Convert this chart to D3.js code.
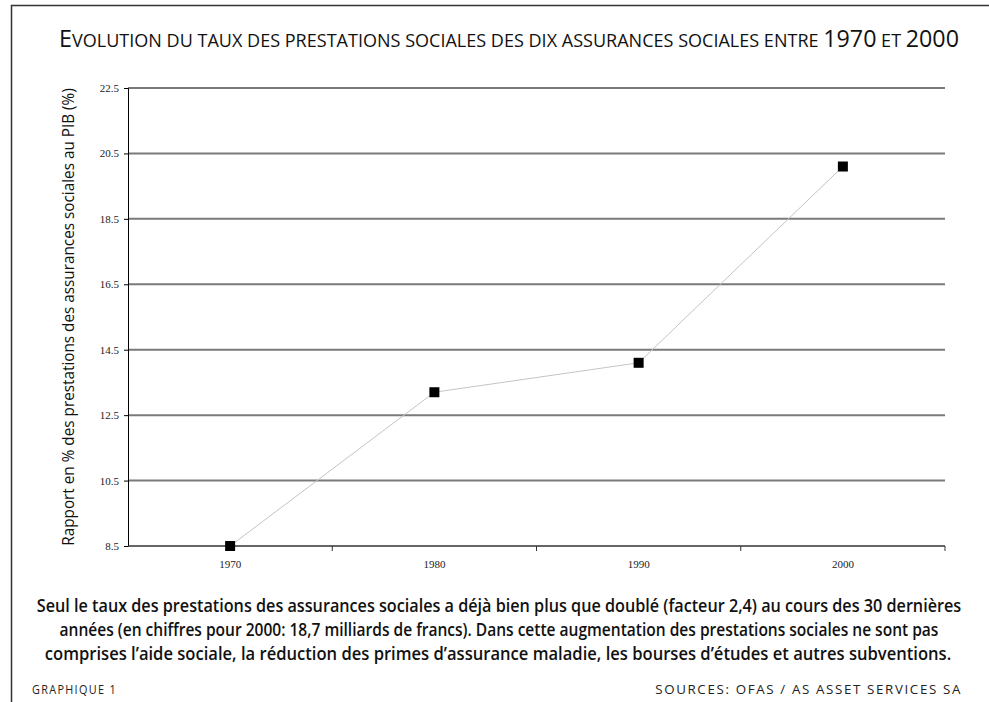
<!DOCTYPE html>
<html>
<head>
<meta charset="utf-8">
<script src="https://cdn.jsdelivr.net/npm/d3@7"></script>
<style>
  body { margin: 0; background: #fff; }
  svg { display: block; }
</style>
</head>
<body>
<div id="chart"></div>
<script>
// data
const years = ["1970", "1980", "1990", "2000"];
const rates = [8.5, 13.2, 14.1, 20.1];
const yTicks = [8.5, 10.5, 12.5, 14.5, 16.5, 18.5, 20.5, 22.5];

const title = "Evolution du taux des prestations sociales des dix assurances sociales entre 1970 et 2000";
const yLabel = "Rapport en % des prestations des assurances sociales au PIB (%)";
const caption = [
  "Seul le taux des prestations des assurances sociales a déjà bien plus que doublé (facteur 2,4) au cours des 30 dernières",
  "années (en chiffres pour 2000: 18,7 milliards de francs). Dans cette augmentation des prestations sociales ne sont pas",
  "comprises l’aide sociale, la réduction des primes d’assurance maladie, les bourses d’études et autres subventions."
];
const footLeft = "GRAPHIQUE 1";
const footRight = "SOURCES: OFAS / AS ASSET SERVICES SA";

const width = 989;
const height = 702;
const plotLeft = 128;
const plotRight = 945;
const plotTop = 88;
const plotBottom = 546;
const sans = "'Open Sans', 'DejaVu Sans', sans-serif";
const serif = "'Liberation Serif', 'Times New Roman', serif";

const svg = d3.select("#chart")
  .append("svg")
  .attr("width", width)
  .attr("height", height);

// frame (top and left only)
svg.append("path")
  .attr("d", `M11.5,${height} L11.5,5.5 L${width},5.5`)
  .attr("fill", "none")
  .attr("stroke", "#333")
  .attr("stroke-width", 1.5);

// scale a text horizontally so it is w pixels wide, anchored at (ax, ay)
let squeeze = function (sel, ax, ay, w, anchor) {
  const natural = sel.node().getComputedTextLength();
  const k = w / natural;
  sel.attr("x", 0).attr("y", 0)
    .attr("text-anchor", anchor || "middle")
    .attr("transform", `translate(${ax},${ay}) scale(${k},1)`);
};

// title, drawn as small caps by hand: capitals and digits large, the rest small
const titleText = svg.append("text")
  .attr("font-family", sans)
  .attr("fill", "#111");
title.split("").forEach(ch => {
  const big = ch !== ch.toLowerCase() || /[0-9]/.test(ch);
  titleText.append("tspan")
    .attr("font-size", big ? 24.5 : 19)
    .text(ch.toUpperCase());
});
titleText.call(squeeze, 509, 47, 900);

const x = d3.scaleBand().domain(years).range([plotLeft, plotRight]);
const y = d3.scaleLinear().domain([8.5, 22.5]).range([plotBottom, plotTop]);

// gridlines
svg.append("g")
  .selectAll("line")
  .data(yTicks.slice(1))
  .join("line")
  .attr("x1", plotLeft)
  .attr("x2", plotRight)
  .attr("y1", d => y(d))
  .attr("y2", d => y(d))
  .attr("stroke", "#7a7a7a")
  .attr("stroke-width", 2);

// y axis
const yAxis = svg.append("g")
  .attr("transform", `translate(${plotLeft},0)`)
  .call(d3.axisLeft(y).tickValues(yTicks).tickFormat(d3.format(".1f")).tickSize(4).tickPadding(5));
yAxis.select(".domain").attr("stroke", "#000").attr("stroke-width", 1);
yAxis.selectAll(".tick line").attr("stroke", "#000");
yAxis.selectAll(".tick text")
  .attr("font-family", serif)
  .attr("font-size", 11)
  .attr("fill", "#222");

// x axis: ticks at band boundaries, labels at band centres
const xAxis = svg.append("g")
  .attr("transform", `translate(0,${plotBottom})`);
xAxis.append("line")
  .attr("x1", plotLeft)
  .attr("x2", plotRight)
  .attr("stroke", "#333")
  .attr("stroke-width", 1.5);
xAxis.selectAll(".xt")
  .data(years)
  .join("line")
  .attr("class", "xt")
  .attr("x1", d => x(d) + x.bandwidth())
  .attr("x2", d => x(d) + x.bandwidth())
  .attr("y1", 0)
  .attr("y2", 5)
  .attr("stroke", "#333");
xAxis.selectAll("text")
  .data(years)
  .join("text")
  .attr("x", d => x(d) + x.bandwidth() / 2)
  .attr("y", 22)
  .attr("text-anchor", "middle")
  .attr("font-family", serif)
  .attr("font-size", 11)
  .attr("fill", "#222")
  .text(d => d);

// y axis title
const yTitle = svg.append("text")
  .attr("font-family", sans)
  .attr("font-size", 17)
  .attr("fill", "#111")
  .text(yLabel);
const yNatural = yTitle.node().getComputedTextLength();
yTitle.attr("text-anchor", "middle")
  .attr("transform", `translate(74,${(plotTop + plotBottom) / 2}) rotate(-90) scale(${458 / yNatural},1)`);

// series line
const pts = years.map((d, i) => [x(d) + x.bandwidth() / 2, y(rates[i])]);
svg.append("path")
  .attr("d", d3.line()(pts))
  .attr("fill", "none")
  .attr("stroke", "#c4c4c4")
  .attr("stroke-width", 1);

// markers
svg.append("g")
  .selectAll("rect")
  .data(pts)
  .join("rect")
  .attr("x", d => d[0] - 5)
  .attr("y", d => d[1] - 5)
  .attr("width", 10)
  .attr("height", 10)
  .attr("fill", "#000");

// caption
const capWidths = [925, 880, 907];
const capCentres = [499, 499, 498];
svg.append("g")
  .selectAll("text")
  .data(caption)
  .join("text")
  .attr("font-family", sans)
  .attr("font-size", 18)
  .attr("font-weight", 600)
  .attr("fill", "#111")
  .text(d => d)
  .each(function (d, i) {
    d3.select(this).call(squeeze, capCentres[i], 612 + i * 24, capWidths[i]);
  });

// footer
svg.append("text")
  .attr("font-family", sans)
  .attr("font-size", 13)
  .attr("letter-spacing", 1.6)
  .attr("fill", "#222")
  .text(footLeft)
  .call(squeeze, 32, 694, 85, "start");
svg.append("text")
  .attr("font-family", sans)
  .attr("font-size", 13)
  .attr("letter-spacing", 1.6)
  .attr("fill", "#222")
  .text(footRight)
  .call(squeeze, 962, 694, 307, "end");
</script>
</body>
</html>
